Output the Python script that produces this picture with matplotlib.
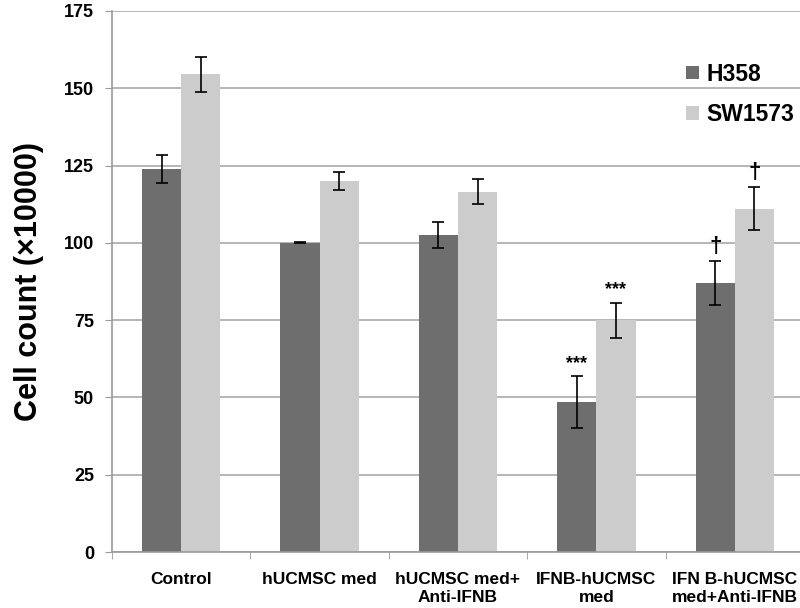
import numpy as np
import matplotlib.pyplot as plt

plt.rcParams['font.family'] = ['Liberation Sans', 'DejaVu Sans']
plt.rcParams['font.weight'] = 'bold'

categories = ["Control", "hUCMSC med", "hUCMSC med+\nAnti-IFNB",
              "IFNB-hUCMSC\nmed", "IFN B-hUCMSC\nmed+Anti-IFNB"]
h358 = [124, 100, 102.5, 48.5, 87]
h358_err = [4.5, 0.2, 4.2, 8.3, 7]
sw1573 = [154.5, 120, 116.5, 75, 111]
sw1573_err = [5.7, 2.8, 4, 5.7, 7]
h358_marks = ["", "", "", "***", "†"]
sw1573_marks = ["", "", "", "***", "†"]

fig = plt.figure(figsize=(8, 6.08), dpi=100)
ax = fig.add_axes([0.14, 0.092, 0.865, 0.89])

x = np.arange(len(categories))
w = 0.283
ax.bar(x - w / 2, h358, w, color="#6e6e6e", label="H358", zorder=2)
ax.bar(x + w / 2, sw1573, w, color="#cccccc", label="SW1573", zorder=2)
ax.errorbar(x - w / 2, h358, yerr=h358_err, fmt="none", ecolor="black",
            elinewidth=1.2, capsize=4, capthick=1.2, zorder=3)
ax.errorbar(x + w / 2, sw1573, yerr=sw1573_err, fmt="none", ecolor="black",
            elinewidth=1.2, capsize=4, capthick=1.2, zorder=3)

for i in range(len(categories)):
    for xs, vals, errs, marks in [(x - w / 2, h358, h358_err, h358_marks),
                                  (x + w / 2, sw1573, sw1573_err, sw1573_marks)]:
        m = marks[i]
        if not m:
            continue
        fs = 13 if m == "***" else 16
        ax.text(xs[i], vals[i] + errs[i] + 1.5, m,
                ha="center", va="bottom", fontsize=fs, fontweight="bold")

ax.set_xlim(-0.5, len(categories) - 0.5)
ax.set_ylim(0, 175)
ax.set_yticks(range(0, 176, 25))
ax.yaxis.grid(True, color="#b0b0b0", linewidth=1.3, zorder=0)
ax.set_axisbelow(True)

ax.set_xticks(x)
ax.set_xticklabels(categories, fontsize=12.5, fontweight="bold", linespacing=1.3)
ax.set_xticks(np.arange(-0.5, len(categories), 1), minor=True)
ax.tick_params(axis="x", which="major", length=0, pad=14)
ax.tick_params(axis="x", which="minor", length=5, color="#999999")
ax.tick_params(axis="y", length=5, color="#999999", labelsize=13, pad=8)
for lbl in ax.get_yticklabels():
    lbl.set_fontweight("bold")

for s in ["top", "right"]:
    ax.spines[s].set_visible(False)
for s in ["left", "bottom"]:
    ax.spines[s].set_color("#999999")
    ax.spines[s].set_linewidth(1.2)

ax.set_ylabel("Cell count (×10000)", fontsize=22, fontweight="bold", labelpad=14)

ax.legend(loc="upper left", bbox_to_anchor=(0.8575, 0.897),
          bbox_transform=fig.transFigure, frameon=False, borderpad=0,
          borderaxespad=0, prop={"weight": "bold", "size": 16.5},
          handlelength=0.55, handleheight=0.55, handletextpad=0.35,
          labelspacing=0.78)

fig.savefig("out.png", dpi=100)
